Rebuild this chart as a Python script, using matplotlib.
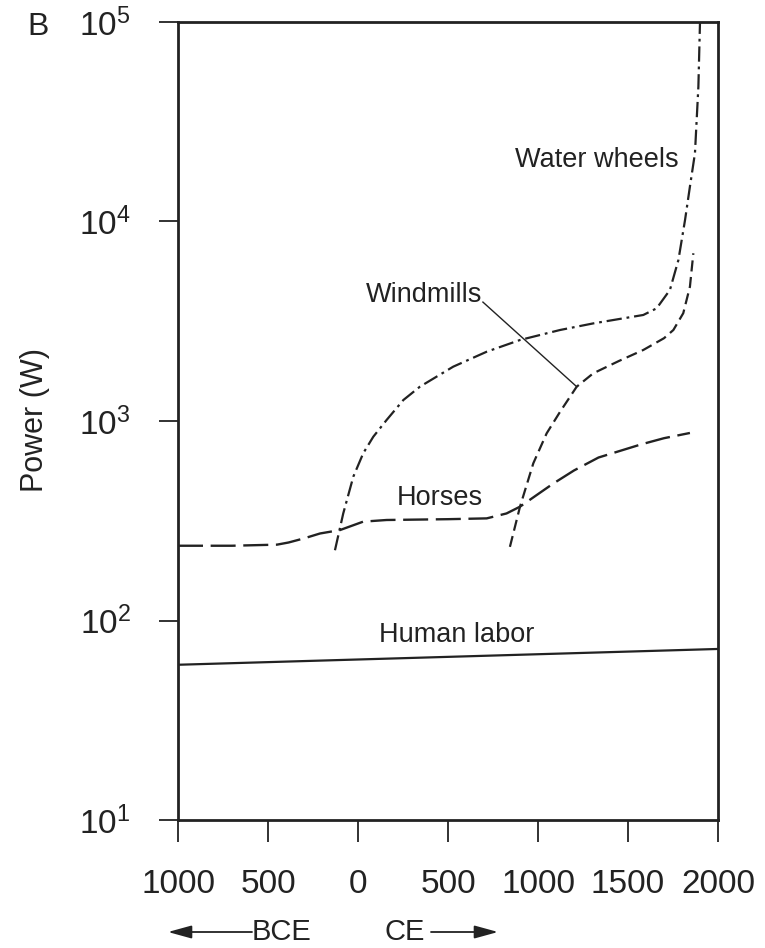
import matplotlib
matplotlib.use("Agg")
import matplotlib.pyplot as plt
from matplotlib.patches import FancyArrowPatch

plt.rcParams['font.family'] = ['Liberation Sans', 'DejaVu Sans']
plt.rcParams['mathtext.fontset'] = 'custom'
plt.rcParams['mathtext.rm'] = 'Liberation Sans'
plt.rcParams['lines.scale_dashes'] = False

# ---- data (year, watts) ----
human_x = [-1000, 2000]
human_y = [60, 72]

horses_x = [-1000, -700, -450, -386, -300, -211, -100, 29, 159, 500, 715, 825, 900,
            1000, 1085, 1200, 1336, 1574, 1700, 1844]
horses_y = [237, 237, 240, 246, 258, 273, 284, 313, 319, 322, 325, 344, 372,
            430, 486, 565, 656, 764, 820, 871]

water_x = [-128, -82, -26, 29, 85, 159, 252, 344, 529, 715, 900, 1122, 1307, 1585,
           1659, 1733, 1780, 1817, 1844, 1872, 1891, 1900]
water_y = [225, 344, 526, 689, 834, 1012, 1274, 1486, 1872, 2225, 2547, 2858, 3085, 3400,
           3670, 4540, 6410, 10190, 14960, 22000, 47400, 100000]

wind_x = [844, 900, 974, 1048, 1122, 1215, 1307, 1450, 1585, 1700, 1752, 1807, 1844, 1863]
wind_y = [234, 372, 614, 867, 1110, 1486, 1734, 2000, 2270, 2600, 2858, 3470, 4710, 6930]

xticks = [-1000, -500, 0, 500, 1000, 1500, 2000]
xticklabels = ['1000', '500', '0', '500', '1000', '1500', '2000']
yticks = [1e1, 1e2, 1e3, 1e4, 1e5]
yticklabels = [r'$\mathregular{10^{%d}}$' % k for k in range(1, 6)]

W, H = 765, 948
fig = plt.figure(figsize=(W / 100, H / 100), dpi=100)
ax = fig.add_axes([178 / W, 1 - 820 / H, (718 - 178) / W, (820 - 22) / H])
ax.set_yscale('log')
ax.set_xlim(-1000, 2000)
ax.set_ylim(10, 1e5)

col = '#222222'
ax.plot(human_x, human_y, color=col, lw=1.6, solid_capstyle='butt')
ax.plot(horses_x, horses_y, color=col, lw=1.7, dashes=(18, 5.5))
ax.plot(water_x, water_y, color=col, lw=1.6, dashes=(11, 3.5, 2, 3.5))
ax.plot(wind_x, wind_y, color=col, lw=1.6, dashes=(8, 4))

# labels
fs_lab = 19.5
ax.text(1328, 20300, 'Water wheels', fontsize=fs_lab, ha='center', va='center', color=col)
ax.text(367, 4285, 'Windmills', fontsize=fs_lab, ha='center', va='center', color=col)
ax.plot([694, 1215], [3945, 1486], color=col, lw=1.0)
ax.text(456, 411, 'Horses', fontsize=fs_lab, ha='center', va='center', color=col)
ax.text(550, 84.6, 'Human labor', fontsize=fs_lab, ha='center', va='center', color=col)

ax.set_xticks(xticks)
ax.set_xticklabels(xticklabels)
ax.set_yticks(yticks)
ax.set_yticklabels(yticklabels)
ax.minorticks_off()
ax.tick_params(axis='x', direction='out', length=16, width=1.3, pad=19, labelsize=24, colors=col)
ax.tick_params(axis='y', direction='out', length=14, width=1.3, pad=20, labelsize=24, colors=col)
for s in ax.spines.values():
    s.set_linewidth(2.0)
    s.set_color(col)

fig.text(35 / W, 1 - 420 / H, 'Power (W)', rotation=90, fontsize=22, ha='center', va='center', color=col)
fig.text(38 / W, 1 - 27 / H, 'B', fontsize=23, ha='center', va='center', color=col)

# BCE / CE arrows
yb = 1 - 932 / H
fig.text(252 / W, yb, 'BCE', fontsize=21, ha='left', va='center', color=col)
fig.text(385 / W, yb, 'CE', fontsize=21, ha='left', va='center', color=col)
arrow_kw = dict(arrowstyle='-|>,head_length=0.8,head_width=0.22', color=col, lw=1.3,
                shrinkA=0, shrinkB=0, mutation_scale=18)
fig.add_artist(FancyArrowPatch((252 / W, yb), (168 / W, yb), transform=fig.transFigure, **arrow_kw))
fig.add_artist(FancyArrowPatch((431 / W, yb), (498 / W, yb), transform=fig.transFigure, **arrow_kw))

fig.savefig('out.png', dpi=100)
